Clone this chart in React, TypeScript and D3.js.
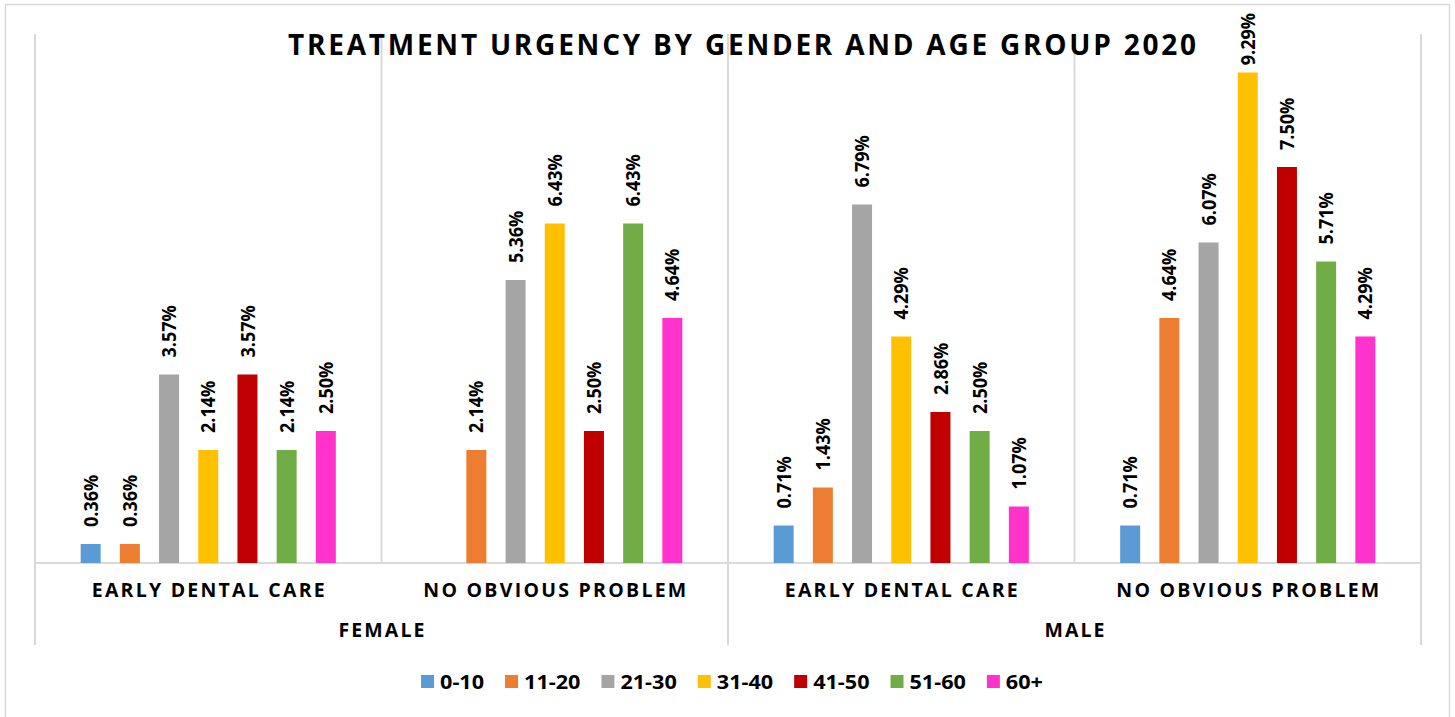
import React, { useEffect, useRef } from "react";
import * as d3 from "d3";

const TITLE = "TREATMENT URGENCY BY GENDER AND AGE GROUP 2020";
const genders = ["FEMALE", "MALE"];
const categories = ["EARLY DENTAL CARE", "NO OBVIOUS PROBLEM"];
const series = ["0-10", "11-20", "21-30", "31-40", "41-50", "51-60", "60+"];
const colors = ["#5B9BD5", "#ED7D31", "#A5A5A5", "#FFC000", "#C00000", "#70AD47", "#FF33CC"];

// values in percent, per series, for groups: F-EDC, F-NOP, M-EDC, M-NOP
const v0_10 = [0.36, null, 0.71, 0.71];
const v11_20 = [0.36, 2.14, 1.43, 4.64];
const v21_30 = [3.57, 5.36, 6.79, 6.07];
const v31_40 = [2.14, 6.43, 4.29, 9.29];
const v41_50 = [3.57, 2.5, 2.86, 7.5];
const v51_60 = [2.14, 6.43, 2.5, 5.71];
const v60p = [2.5, 4.64, 1.07, 4.29];
const seriesValues = [v0_10, v11_20, v21_30, v31_40, v41_50, v51_60, v60p];

const W = 1455;
const H = 717;
const FONT = "'Open Sans', 'DejaVu Sans', sans-serif";

export default function App() {
  const ref = useRef<SVGSVGElement | null>(null);

  useEffect(() => {
    const svg = d3.select(ref.current);
    svg.selectAll("*").remove();

    const groups: { g: string; c: string; key: string }[] = [];
    genders.forEach((g) => categories.forEach((c) => groups.push({ g, c, key: g + "|" + c })));

    const plotL = 35, plotR = 1421, baseY = 563, topY = 35;
    const gx = d3.scaleBand<string>().domain(groups.map((d) => d.key)).range([plotL, plotR]).padding(0);
    const ix = d3.scaleBand<string>().domain(series).range([0, gx.step()]).paddingInner(0.49).paddingOuter(1.165);
    const y = d3.scaleLinear().domain([0, 10]).range([baseY, topY]);
    const gender = d3.scaleBand<string>().domain(genders).range([plotL, plotR]).padding(0);

    // border
    svg.append("rect").attr("x", 5.5).attr("y", 4.5).attr("width", 1444).attr("height", 730)
      .attr("fill", "#fff").attr("stroke", "#d9d9d9").attr("stroke-width", 1.5);

    // vertical gridlines / tick lines
    const bounds = d3.range(groups.length + 1).map((i) => plotL + i * gx.step());
    bounds.forEach((bx, i) => {
      svg.append("line").attr("x1", bx).attr("x2", bx).attr("y1", topY - 1)
        .attr("y2", i % 2 === 0 ? 645 : baseY)
        .attr("stroke", "#d9d9d9").attr("stroke-width", 2);
    });
    // baseline
    svg.append("line").attr("x1", plotL).attr("x2", plotR).attr("y1", baseY).attr("y2", baseY)
      .attr("stroke", "#d9d9d9").attr("stroke-width", 2);

    // bars
    groups.forEach((grp, gi) => {
      series.forEach((s, si) => {
        const v = seriesValues[si][gi];
        if (v === null || v === undefined) return;
        const x = (gx(grp.key) as number) + (ix(s) as number);
        svg.append("rect").attr("x", x).attr("y", y(v)).attr("width", ix.bandwidth())
          .attr("height", baseY - y(v)).attr("fill", colors[si]);
        const cx = x + ix.bandwidth() / 2;
        const t = svg.append("text").attr("font-family", FONT).attr("font-weight", 700)
          .attr("font-size", 18).attr("fill", "#000").attr("dy", "0.36em")
          .attr("text-anchor", "start").text(v.toFixed(2) + "%");
        const len = (t.node() as SVGTextElement).getComputedTextLength();
        const startY = Math.max(y(v) - 17, 13 + len);
        t.attr("transform", `translate(${cx},${startY}) scale(1.1,1) rotate(-90)`);
      });
    });

    // category labels
    const catLen: Record<string, number> = { "EARLY DENTAL CARE": 233, "NO OBVIOUS PROBLEM": 263 };
    groups.forEach((grp) => {
      const cx = (gx(grp.key) as number) + gx.step() / 2;
      svg.append("text").attr("x", cx).attr("y", 597).attr("text-anchor", "middle")
        .attr("font-family", FONT).attr("font-weight", 700).attr("font-size", 19.5)
        .attr("textLength", catLen[grp.c]).attr("lengthAdjust", "spacing").text(grp.c);
    });
    // gender labels
    const genLen: Record<string, number> = { FEMALE: 86, MALE: 60 };
    genders.forEach((g) => {
      const cx = (gender(g) as number) + gender.step() / 2;
      svg.append("text").attr("x", cx).attr("y", 637).attr("text-anchor", "middle")
        .attr("font-family", FONT).attr("font-weight", 700).attr("font-size", 19.5)
        .attr("textLength", genLen[g]).attr("lengthAdjust", "spacing").text(g);
    });

    // title
    svg.append("text").attr("x", 742).attr("y", 55).attr("text-anchor", "middle")
      .attr("font-family", FONT).attr("font-weight", 700).attr("font-size", 28)
      .attr("textLength", 908).attr("lengthAdjust", "spacing").attr("fill", "#000").text(TITLE);

    // legend
    const lg = svg.append("g");
    const sq = 13, gapT = 6, gapI = 21, stretch = 1.08;
    let cur = 0;
    series.forEach((s, i) => {
      lg.append("rect").attr("x", cur).attr("y", 675).attr("width", sq).attr("height", sq).attr("fill", colors[i]);
      const t = lg.append("text").attr("x", cur + sq + gapT).attr("y", 688.5)
        .attr("font-family", FONT).attr("font-weight", 700).attr("font-size", 20).text(s);
      const len = (t.node() as SVGTextElement).getComputedTextLength() * stretch;
      t.attr("textLength", len).attr("lengthAdjust", "spacingAndGlyphs");
      cur += sq + gapT + len + gapI;
    });
    const total = cur - gapI;
    lg.attr("transform", `translate(${732 - total / 2},0)`);
  }, []);

  return (
    <svg ref={ref} width={W} height={H} style={{ position: "absolute", left: 0, top: 0, display: "block" }} />
  );
}
